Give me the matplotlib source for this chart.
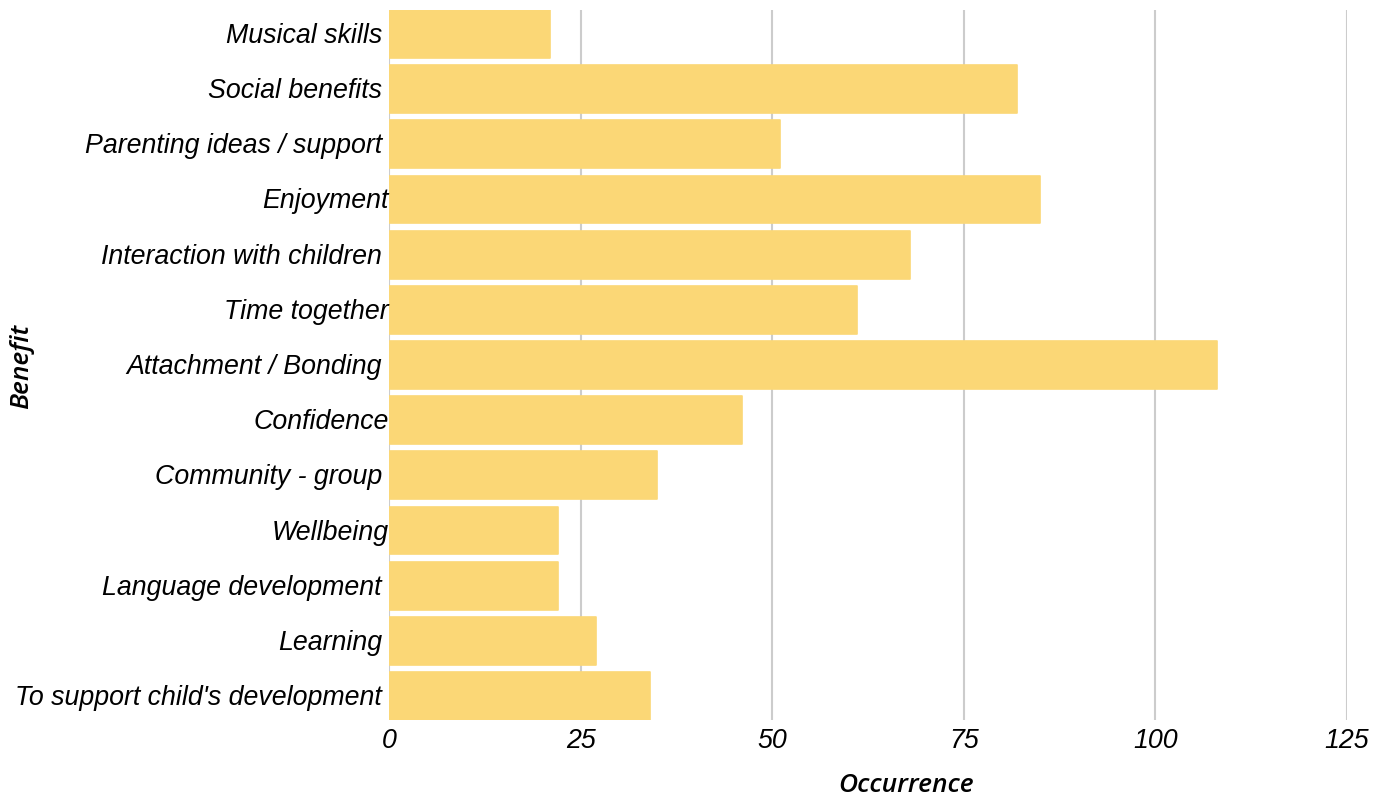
import matplotlib.pyplot as plt
from matplotlib.transforms import blended_transform_factory, offset_copy

benefits = [
    "Musical skills",
    "Social benefits",
    "Parenting ideas / support",
    "Enjoyment",
    "Interaction with children",
    "Time together",
    "Attachment / Bonding",
    "Confidence",
    "Community - group",
    "Wellbeing",
    "Language development",
    "Learning",
    "To support child's development",
]
occurrence = [21, 82, 51, 85, 68, 61, 108, 46, 35, 22, 22, 27, 34]
# these labels sit flush against the axis
flush_labels = {"Enjoyment", "Time together", "Confidence", "Wellbeing"}
x_ticks = [0, 25, 50, 75, 100, 125]

bar_color = "#FBD776"
grid_color = "#CCCCCC"
label_size = 19.3

fig = plt.figure(figsize=(13.86, 7.98), dpi=100)
ax = fig.add_axes([389 / 1386, 78 / 798, 958 / 1386, 710 / 798])

pos = list(range(len(benefits)))
ax.barh(pos, occurrence, height=0.87, color=bar_color, edgecolor=bar_color,
        linewidth=1.2, joinstyle="round", zorder=2)

ax.set_xlim(0, 125)
ax.set_ylim(len(benefits) - 1 + 0.435, -0.435)

ax.set_xticks(x_ticks)
ax.set_xticklabels([str(t) for t in x_ticks], fontsize=label_size,
                   fontstyle="italic", family="Liberation Sans")
ax.tick_params(axis="x", length=0, pad=6)
ax.set_yticks([])
ax.grid(axis="x", color=grid_color, linewidth=1.5, zorder=0)
for side in ["top", "right", "bottom", "left"]:
    ax.spines[side].set_visible(False)

trans = blended_transform_factory(ax.transAxes, ax.transData)
for i, name in enumerate(benefits):
    shift = 0 if name in flush_labels else -7
    t = offset_copy(trans, fig=fig, x=shift, y=-2, units="dots")
    ax.text(0, i, name, transform=t, ha="right", va="center",
            fontsize=label_size, fontstyle="italic", family="Liberation Sans")

fig.text(906 / 1386, 1 - 785 / 798, "Occurrence", ha="center", va="center",
         fontsize=19, fontstyle="italic", fontweight="semibold",
         family="Open Sans")
fig.text(22 / 1386, 1 - 366 / 798, "Benefit", ha="center", va="center",
         rotation=90, fontsize=19, fontstyle="italic", fontweight="semibold",
         family="Open Sans")

fig.savefig("out.png", dpi=100)
